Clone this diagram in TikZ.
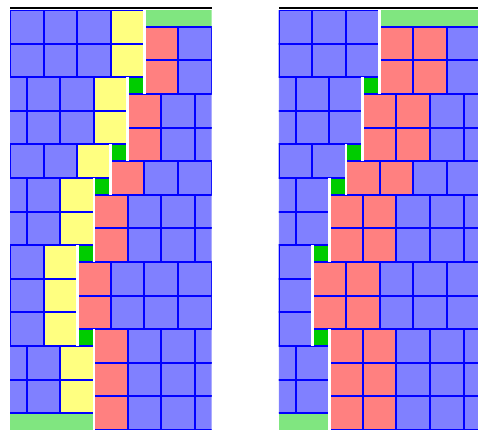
\documentclass[tikz,border=0pt]{standalone}
\usepackage{xcolor}
\usepackage{tikz}
\definecolor{brick}{RGB}{128,128,255}
\definecolor{brickedge}{RGB}{0,0,255}
\definecolor{brickred}{RGB}{255,128,128}
\definecolor{brickyellow}{RGB}{255,255,128}
\definecolor{gapgreen}{RGB}{0,204,0}
\definecolor{surfgreen}{RGB}{128,230,128}

\begin{document}
\begin{tikzpicture}[y=-1cm,
  cell/.style={draw=brickedge,line width=1.7pt},
  slipline/.style={draw=white,line width=2.3pt},
  gap/.style={fill=gapgreen},
  surf/.style={fill=surfgreen}]
  \useasboundingbox (-0.298,-0.298) rectangle (13.93,12.53);
  \foreach \ox/\dx/\lc/\nr in {0/0/brickyellow/1,8/1/brick/2}{
    \begin{scope}[xshift=\ox cm]
      \draw[black,line width=1.7pt] (0,-0.05) -- (6,-0.05);
      \begin{scope}
        \clip (0,0) rectangle (6,12.5);
        \fill[surf] (4-\dx,0) rectangle (6,0.5);
        \fill[surf] (0,12) rectangle (2.5-\dx,12.5);
        \foreach \gx/\gy in {3.5/2,3/4,2.5/5,2/7,2/9.5}
          \fill[gap] (\gx-\dx,\gy) rectangle ++(0.5,0.5);
        % left half, one row per cell
        \foreach \e [count=\i from 0] in {4,4,3.5,3.5,3,2.5,2.5,2,2,2,2.5,2.5}{
          \draw[cell,fill=\lc] (\e-\dx-1,\i) rectangle ++(1,1);
          \foreach \k in {2,...,5}
            \draw[cell,fill=brick] (\e-\dx-\k,\i) rectangle ++(1,1);
        }
        % right half, half a cell lower
        \foreach \s [count=\j from 0] in {4,4,3.5,3.5,3,2.5,2.5,2,2,2.5,2.5,2.5}{
          \foreach \k in {1,...,\nr}
            \draw[cell,fill=brickred] (\s-\dx+\k-1,\j+0.5) rectangle ++(1,1);
          \foreach \k in {\nr,...,5}
            \draw[cell,fill=brick] (\s-\dx+\k,\j+0.5) rectangle ++(1,1);
        }
      \end{scope}
      \foreach \x/\ya/\yb in {4/0/2.5,3.5/2/4.5,3/4/5.5,2.5/5/7.5,2/7/10,2.5/9.5/12.5}
        \draw[slipline] (\x-\dx,\ya) -- (\x-\dx,\yb);
    \end{scope}
  }
\end{tikzpicture}
\end{document}
